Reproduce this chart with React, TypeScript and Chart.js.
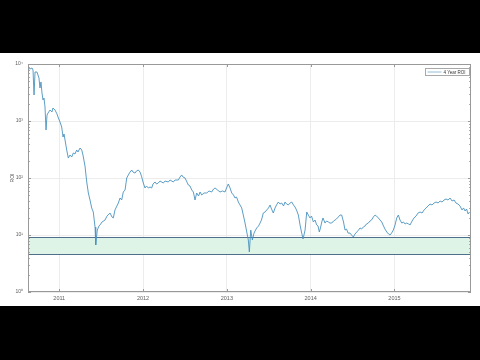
import React, { useEffect, useRef } from "react";
import { Chart, registerables } from "chart.js";

Chart.register(...registerables);

// ---- data (decimal year, ROI) ----
const DATES: number[] = [
  2010.627, 2010.651, 2010.675, 2010.687, 2010.699, 2010.711, 2010.734, 2010.758, 2010.770, 2010.782,
  2010.794, 2010.806, 2010.818, 2010.830, 2010.842, 2010.854, 2010.866, 2010.890, 2010.913, 2010.925,
  2010.949, 2010.973, 2010.985, 2011.009, 2011.029, 2011.045, 2011.057, 2011.069, 2011.089, 2011.108,
  2011.128, 2011.149, 2011.168, 2011.188, 2011.208, 2011.224, 2011.248, 2011.268, 2011.283, 2011.307,
  2011.328, 2011.347, 2011.367, 2011.387, 2011.406, 2011.427, 2011.435, 2011.454, 2011.474, 2011.486,
  2011.510, 2011.546, 2011.570, 2011.606, 2011.629, 2011.645, 2011.665, 2011.705, 2011.725, 2011.745,
  2011.764, 2011.785, 2011.805, 2011.824, 2011.844, 2011.865, 2011.880, 2011.904, 2011.922, 2011.943,
  2011.964, 2011.981, 2012.003, 2012.023, 2012.041, 2012.063, 2012.083, 2012.103, 2012.119, 2012.143,
  2012.160, 2012.182, 2012.202, 2012.242, 2012.262, 2012.301, 2012.322, 2012.361, 2012.381, 2012.421,
  2012.441, 2012.461, 2012.477, 2012.501, 2012.518, 2012.540, 2012.560, 2012.581, 2012.600, 2012.620,
  2012.640, 2012.662, 2012.680, 2012.700, 2012.727, 2012.760, 2012.787, 2012.819, 2012.841, 2012.859,
  2012.888, 2012.918, 2012.948, 2012.978, 2012.996, 2013.017, 2013.038, 2013.058, 2013.079, 2013.097,
  2013.115, 2013.137, 2013.157, 2013.177, 2013.196, 2013.217, 2013.237, 2013.256, 2013.268, 2013.285,
  2013.304, 2013.324, 2013.342, 2013.356, 2013.378, 2013.396, 2013.413, 2013.435, 2013.455, 2013.476,
  2013.497, 2013.515, 2013.533, 2013.554, 2013.575, 2013.592, 2013.614, 2013.634, 2013.655, 2013.676,
  2013.694, 2013.712, 2013.733, 2013.754, 2013.774, 2013.795, 2013.813, 2013.831, 2013.853, 2013.873,
  2013.893, 2013.909, 2013.933, 2013.953, 2013.972, 2013.992, 2014.010, 2014.032, 2014.052, 2014.072,
  2014.088, 2014.103, 2014.117, 2014.132, 2014.147, 2014.171, 2014.189, 2014.211, 2014.231, 2014.251,
  2014.273, 2014.291, 2014.308, 2014.330, 2014.350, 2014.370, 2014.392, 2014.410, 2014.428, 2014.446,
  2014.470, 2014.487, 2014.509, 2014.529, 2014.550, 2014.571, 2014.589, 2014.607, 2014.628, 2014.649,
  2014.666, 2014.688, 2014.708, 2014.726, 2014.748, 2014.768, 2014.786, 2014.807, 2014.828, 2014.848,
  2014.869, 2014.887, 2014.908, 2014.929, 2014.947, 2014.965, 2014.986, 2015.007, 2015.027, 2015.046,
  2015.066, 2015.087, 2015.108, 2015.126, 2015.146, 2015.168, 2015.186, 2015.210, 2015.233, 2015.257,
  2015.281, 2015.305, 2015.329, 2015.353, 2015.377, 2015.400, 2015.424, 2015.448, 2015.472, 2015.496,
  2015.520, 2015.544, 2015.568, 2015.591, 2015.615, 2015.639, 2015.663, 2015.687, 2015.711, 2015.734,
  2015.758, 2015.782, 2015.806, 2015.824, 2015.842, 2015.860, 2015.878, 2015.896,
];

const ROI: number[] = [
  8510, 8170, 8510, 7850, 2860, 7240, 7240, 5680, 3790, 4830,
  3100, 2340, 2530, 1760, 695, 1270, 1380, 1560, 1440, 1690,
  1560, 1330, 1175, 960, 785, 524, 592, 464, 310, 224,
  253, 234, 275, 264, 310, 286, 336, 310, 253, 162,
  85.1, 54.6, 41.1, 29.8, 25.3, 13.8, 6.68, 12.2, 14.4, 15.0,
  16.9, 18.3, 21.5, 24.3, 20.7, 19.9, 27.5, 36.4, 44.6, 41.1,
  56.8, 61.6, 100, 113, 127, 138, 127, 122, 133, 138,
  127, 108, 81.7, 66.8, 72.4, 66.8, 69.5, 66.8, 78.5, 85.1,
  78.5, 81.7, 88.5, 81.7, 88.5, 85.1, 92.2, 85.1, 92.2, 92.2,
  104, 113, 104, 100, 88.5, 75.4, 72.4, 61.6, 56.8, 41.1,
  54.6, 48.3, 56.8, 50.3, 54.6, 54.6, 59.2, 56.8, 64.1, 66.8,
  61.6, 56.8, 59.2, 56.8, 66.8, 78.5, 66.8, 54.6, 50.3, 44.6,
  46.4, 37.9, 33.6, 29.8, 22.4, 16.2, 11.3, 8.17, 5.03, 12.2,
  8.17, 10.8, 12.2, 13.3, 14.4, 16.2, 18.3, 24.3, 25.3, 27.5,
  29.8, 33.6, 28.6, 24.3, 29.8, 33.6, 37.9, 35.0, 36.4, 32.3,
  37.9, 35.0, 33.6, 36.4, 37.9, 33.6, 31.0, 27.5, 22.4, 15.0,
  10.8, 8.51, 12.2, 25.3, 22.4, 19.9, 21.5, 16.9, 18.3, 15.0,
  14.4, 11.3, 13.3, 16.9, 19.9, 16.2, 17.6, 16.9, 16.2, 16.2,
  17.6, 18.3, 19.1, 20.7, 22.4, 22.4, 16.9, 12.2, 12.7, 10.8,
  10.8, 10.0, 9.22, 10.4, 11.3, 12.2, 13.3, 12.7, 13.8, 14.4,
  15.6, 16.2, 17.6, 18.3, 20.7, 22.4, 21.5, 19.9, 18.3, 16.9,
  14.4, 12.7, 11.3, 10.4, 10.0, 10.8, 12.2, 15.0, 19.9, 22.4,
  18.3, 16.2, 16.9, 15.6, 16.2, 15.6, 15.0, 17.6, 19.9, 21.5,
  24.3, 25.3, 24.3, 27.5, 29.8, 32.3, 35.0, 33.6, 36.4, 37.9,
  36.4, 39.5, 37.9, 41.1, 42.8, 41.1, 44.6, 39.5, 41.1, 36.4,
  35.0, 32.3, 27.5, 29.8, 26.4, 28.6, 23.4, 25.3,
];

const YEAR_TICKS: number[] = [2011, 2012, 2013, 2014, 2015];
const DECADE_TICKS: number[] = [1, 10, 100, 1000, 10000];
const DECADE_LABELS: string[] = ["10\u2070", "10\u00B9", "10\u00B2", "10\u00B3", "10\u2074"];
const X_MIN = 2010.627;
const X_MAX = 2015.913;
const BAND_LOW = 4.6;
const BAND_HIGH = 9.2;
const SERIES_LABEL = "4 Year ROI";
const Y_TITLE = "ROI";

// ---- styles ----
const LINE_COLOR = "#4a93c0";
const BAND_FILL = "#def4e7";
const BAND_EDGE = "#4f6f8c";
const FRAME = "#999999";
const GRID = "#ececec";
const TEXT = "#606060";
const FONT = "'Liberation Sans', Arial, sans-serif";

const bandPlugin = {
  id: "band",
  beforeDatasetsDraw(chart: any) {
    const { ctx, chartArea: a, scales } = chart;
    const y = scales.y;
    const top = Math.round(y.getPixelForValue(BAND_HIGH)) + 0.5;
    const bot = Math.round(y.getPixelForValue(BAND_LOW)) + 0.5;
    ctx.save();
    ctx.fillStyle = BAND_FILL;
    ctx.fillRect(a.left, top, a.right - a.left, bot - top);
    ctx.strokeStyle = BAND_EDGE;
    ctx.lineWidth = 1;
    ctx.strokeRect(a.left + 0.5, top, a.right - a.left - 1, bot - top);
    ctx.restore();
  },
};

const framePlugin = {
  id: "frame",
  afterDraw(chart: any) {
    const { ctx, chartArea: a, scales } = chart;
    const x = scales.x;
    const y = scales.y;
    ctx.save();
    ctx.strokeStyle = FRAME;
    ctx.lineWidth = 1;
    ctx.strokeRect(Math.round(a.left) + 0.5, Math.round(a.top) + 0.5, Math.round(a.right - a.left) - 1, Math.round(a.bottom - a.top) - 1);
    ctx.beginPath();
    for (const v of YEAR_TICKS) {
      const px = Math.round(x.getPixelForValue(v)) + 0.5;
      ctx.moveTo(px, a.bottom);
      ctx.lineTo(px, a.bottom - 3);
      ctx.moveTo(px, a.top);
      ctx.lineTo(px, a.top + 3);
    }
    for (let i = 0; i < DECADE_TICKS.length; i++) {
      const d = DECADE_TICKS[i];
      const py = Math.round(y.getPixelForValue(d)) + 0.5;
      ctx.moveTo(a.left, py);
      ctx.lineTo(a.left + 3, py);
      ctx.moveTo(a.right, py);
      ctx.lineTo(a.right - 3, py);
      if (i < DECADE_TICKS.length - 1) {
        for (let k = 2; k <= 9; k++) {
          const pm = Math.round(y.getPixelForValue(k * d)) + 0.5;
          ctx.moveTo(a.left, pm);
          ctx.lineTo(a.left + 1.8, pm);
          ctx.moveTo(a.right, pm);
          ctx.lineTo(a.right - 1.8, pm);
        }
      }
    }
    ctx.stroke();

    // legend box (top right, inside axes)
    const bw = 44;
    const bh = 7;
    const bx = Math.round(a.right - bw - 2) + 0.5;
    const by = Math.round(a.top + 4) + 0.5;
    ctx.fillStyle = "#ffffff";
    ctx.fillRect(bx, by, bw, bh);
    ctx.strokeStyle = "#a8a8a8";
    ctx.strokeRect(bx, by, bw, bh);
    ctx.strokeStyle = LINE_COLOR;
    ctx.globalAlpha = 0.6;
    ctx.beginPath();
    ctx.moveTo(bx + 2, by + bh / 2);
    ctx.lineTo(bx + 16, by + bh / 2);
    ctx.stroke();
    ctx.globalAlpha = 1;
    ctx.fillStyle = "#333";
    ctx.font = `4.5px ${FONT}`;
    ctx.textBaseline = "middle";
    ctx.textAlign = "left";
    ctx.fillText(SERIES_LABEL, bx + 18, by + bh / 2 + 0.3);
    ctx.restore();
  },
};

export default function App() {
  const ref = useRef<HTMLCanvasElement | null>(null);

  useEffect(() => {
    if (!ref.current) return;
    const points = DATES.map((d, i) => ({ x: d, y: ROI[i] }));
    const chart = new Chart(ref.current, {
      type: "line",
      data: {
        datasets: [
          {
            label: SERIES_LABEL,
            data: points,
            borderColor: LINE_COLOR,
            borderWidth: 0.9,
            pointRadius: 0,
            tension: 0,
            fill: false,
          },
        ],
      },
      options: {
        animation: false,
        responsive: false,
        devicePixelRatio: 1,
        events: [],
        layout: { padding: { top: 11, right: 9, left: 0, bottom: 0 } },
        plugins: {
          legend: { display: false },
          tooltip: { enabled: false },
          title: { display: false },
        },
        scales: {
          x: {
            type: "linear",
            min: X_MIN,
            max: X_MAX,
            afterBuildTicks: (s: any) => {
              s.ticks = YEAR_TICKS.map((v) => ({ value: v }));
            },
            afterFit: (s: any) => {
              s.height = 14;
            },
            grid: { color: GRID, drawTicks: false, lineWidth: 1 },
            border: { display: false },
            ticks: {
              color: TEXT,
              padding: 3,
              maxRotation: 0,
              autoSkip: false,
              font: { family: FONT, size: 5.5 },
              callback: (v: any) => String(v),
            },
          },
          y: {
            type: "logarithmic",
            min: 1,
            max: 10000,
            afterBuildTicks: (s: any) => {
              s.ticks = DECADE_TICKS.map((v) => ({ value: v }));
            },
            afterFit: (s: any) => {
              s.width = 28;
            },
            grid: { color: GRID, drawTicks: false, lineWidth: 1 },
            border: { display: false },
            title: {
              display: true,
              text: Y_TITLE,
              color: TEXT,
              font: { family: FONT, size: 5 },
              padding: { top: 9.5, bottom: 0 },
            },
            ticks: {
              color: TEXT,
              padding: 5,
              autoSkip: false,
              font: { family: FONT, size: 5 },
              callback: (v: any) => {
                const i = DECADE_TICKS.indexOf(Number(v));
                return i >= 0 ? DECADE_LABELS[i] : "";
              },
            },
          },
        },
      },
      plugins: [bandPlugin, framePlugin],
    });
    return () => chart.destroy();
  }, []);

  return (
    <div style={{ position: "fixed", left: 0, top: 0, width: 480, height: 360, background: "#000" }}>
      <div style={{ position: "absolute", left: 0, top: 53, width: 480, height: 253, background: "#fff" }}>
        <canvas ref={ref} width={480} height={253} style={{ display: "block", width: 480, height: 253 }} />
      </div>
    </div>
  );
}
